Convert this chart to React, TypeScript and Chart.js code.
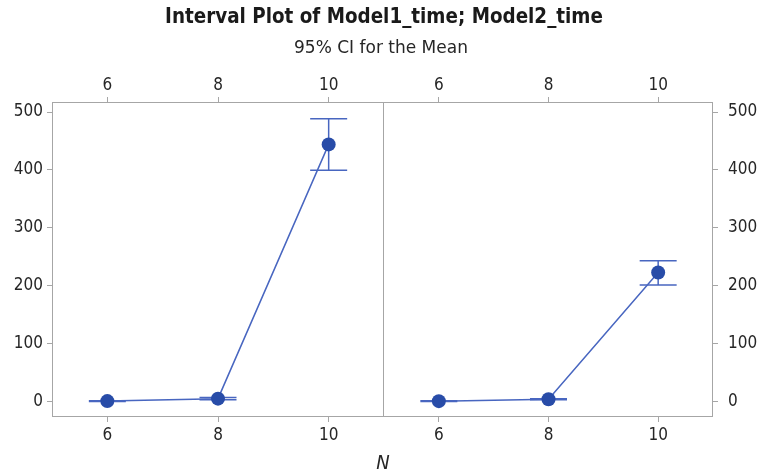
import React, { useEffect, useRef } from "react";
import { Chart, registerables } from "chart.js";

Chart.register(...registerables);

// ---- data ----
const nValues = [6, 8, 10];
const model1Mean = [0.3, 4.5, 444];
const model1Lower = [-0.5, 2.5, 399.5];
const model1Upper = [1.0, 6.5, 488.5];
const model2Mean = [0.2, 3.5, 222.5];
const model2Lower = [-0.3, 2.5, 201];
const model2Upper = [0.8, 4.5, 243];
const xTickValues = [6, 8, 10];
const yTickValues = [0, 100, 200, 300, 400, 500];
const titleText = "Interval Plot of Model1_time; Model2_time";
const subtitleText = "95% CI for the Mean";
const xAxisTitle = "N";

// ---- styles ----
const lineColor = "rgb(72,102,192)";
const pointColor = "rgb(40,76,168)";
const frameColor = "#a6a6a6";
const textColor = "#262626";
const tickFont = { family: "'DejaVu Sans Condensed', 'DejaVu Sans', sans-serif", size: 17 };

const errorBarPlugin = {
  id: "errorBars",
  beforeDatasetsDraw(chart: any) {
    const ctx = chart.ctx;
    chart.data.datasets.forEach((ds: any) => {
      const xs = chart.scales[ds.xAxisID];
      const ys = chart.scales[ds.yAxisID];
      ctx.save();
      ctx.strokeStyle = lineColor;
      ctx.lineWidth = 1.5;
      ds.data.forEach((p: any, i: number) => {
        const x = xs.getPixelForValue(p.x);
        const yl = ys.getPixelForValue(ds.errLow[i]);
        const yh = ys.getPixelForValue(ds.errHigh[i]);
        const hw = 18.5;
        ctx.beginPath();
        ctx.moveTo(x, yl);
        ctx.lineTo(x, yh);
        ctx.moveTo(x - hw, yl);
        ctx.lineTo(x + hw, yl);
        ctx.moveTo(x - hw, yh);
        ctx.lineTo(x + hw, yh);
        ctx.stroke();
      });
      ctx.restore();
    });
  },
};

const framePlugin = {
  id: "frame",
  afterDraw(chart: any) {
    const { left, right, top, bottom } = chart.chartArea;
    const skipLeft = chart.options.plugins.frame && chart.options.plugins.frame.skipLeft;
    const ctx = chart.ctx;
    const l = Math.round(left) + 0.5;
    const r = Math.round(right) - 0.5;
    const t = Math.round(top) + 0.5;
    const b = Math.round(bottom) - 0.5;
    ctx.save();
    ctx.strokeStyle = frameColor;
    ctx.lineWidth = 1;
    ctx.beginPath();
    ctx.moveTo(l - 0.5, t);
    ctx.lineTo(r + 0.5, t);
    ctx.moveTo(r, t);
    ctx.lineTo(r, b);
    ctx.moveTo(r + 0.5, b);
    ctx.lineTo(l - 0.5, b);
    if (!skipLeft) {
      ctx.moveTo(l, b);
      ctx.lineTo(l, t);
    }
    ctx.stroke();
    ctx.restore();
  },
};

function zeroPad(s: any) {
  s.paddingLeft = 0;
  s.paddingRight = 0;
  s.paddingTop = 0;
  s.paddingBottom = 0;
}

function xScale(position: "top" | "bottom", height: number, pad: number) {
  return {
    type: "linear",
    position,
    min: 5,
    max: 11,
    afterBuildTicks: (s: any) => {
      s.ticks = xTickValues.map((v) => ({ value: v }));
    },
    afterFit: (s: any) => {
      s.height = height;
      zeroPad(s);
    },
    grid: { display: true, drawOnChartArea: false, drawTicks: true, tickLength: 5, color: frameColor },
    border: { display: false },
    ticks: { font: tickFont, color: textColor, padding: pad, maxRotation: 0 },
  };
}

function makeConfig(mean: number[], lower: number[], upper: number[], side: "left" | "right"): any {
  return {
    type: "line",
    data: {
      datasets: [
        {
          data: nValues.map((x, i) => ({ x, y: mean[i] })),
          xAxisID: "xb",
          yAxisID: "y",
          borderColor: lineColor,
          borderWidth: 1.5,
          pointRadius: 7,
          pointBackgroundColor: pointColor,
          pointBorderColor: pointColor,
          pointBorderWidth: 0,
          fill: false,
          tension: 0,
          errLow: lower,
          errHigh: upper,
        },
      ],
    },
    options: {
      animation: false,
      responsive: false,
      maintainAspectRatio: false,
      layout: {
        autoPadding: false,
        padding: side === "left" ? { left: 0, right: 1, top: 0, bottom: 0 } : { left: 1, right: 0, top: 0, bottom: 0 },
      },
      plugins: {
        legend: { display: false },
        tooltip: { enabled: false },
        title: { display: false },
        frame: { skipLeft: side === "right" },
      },
      scales: {
        xb: xScale("bottom", 57, 3),
        xt: xScale("top", 102, 1),
        y: {
          type: "linear",
          position: side,
          min: -27.2,
          max: 517.3,
          afterBuildTicks: (s: any) => {
            s.ticks = yTickValues.map((v) => ({ value: v }));
          },
          afterFit: (s: any) => {
            s.width = side === "left" ? 52 : 47;
            zeroPad(s);
          },
          grid: { display: true, drawOnChartArea: false, drawTicks: true, tickLength: 5, color: frameColor },
          border: { display: false },
          ticks: { font: tickFont, color: textColor, padding: side === "left" ? 4 : 10 },
        },
      },
    },
    plugins: [errorBarPlugin, framePlugin],
  };
}

export default function App() {
  const leftRef = useRef<HTMLCanvasElement>(null);
  const rightRef = useRef<HTMLCanvasElement>(null);

  useEffect(() => {
    const c1 = new Chart(leftRef.current!, makeConfig(model1Mean, model1Lower, model1Upper, "left"));
    const c2 = new Chart(rightRef.current!, makeConfig(model2Mean, model2Lower, model2Upper, "right"));
    return () => {
      c1.destroy();
      c2.destroy();
    };
  }, []);

  return (
    <div style={{ position: "absolute", left: 0, top: 0, width: 760, height: 474, background: "#fff", overflow: "hidden" }}>
      <canvas ref={leftRef} width={385} height={474} style={{ position: "absolute", left: 0, top: 0, width: 385, height: 474 }} />
      <canvas ref={rightRef} width={377} height={474} style={{ position: "absolute", left: 383, top: 0, width: 377, height: 474 }} />
      <div
        style={{
          position: "absolute",
          left: 0,
          width: 768,
          top: 3,
          textAlign: "center",
          fontFamily: "'DejaVu Sans Condensed', 'DejaVu Sans', sans-serif",
          fontWeight: 600,
          fontSize: 20.4,
          lineHeight: "26px",
          color: "#1a1a1a",
          whiteSpace: "nowrap",
        }}
      >
        {titleText}
      </div>
      <div
        style={{
          position: "absolute",
          left: 0,
          width: 762,
          top: 36,
          textAlign: "center",
          fontFamily: "'DejaVu Sans', sans-serif",
          fontSize: 17,
          lineHeight: "22px",
          color: textColor,
          whiteSpace: "nowrap",
        }}
      >
        {subtitleText}
      </div>
      <div
        style={{
          position: "absolute",
          left: 0,
          width: 766,
          top: 449,
          textAlign: "center",
          fontFamily: "'DejaVu Sans Condensed', 'DejaVu Sans', sans-serif",
          fontStyle: "italic",
          fontSize: 20,
          lineHeight: "26px",
          color: textColor,
        }}
      >
        {xAxisTitle}
      </div>
    </div>
  );
}
